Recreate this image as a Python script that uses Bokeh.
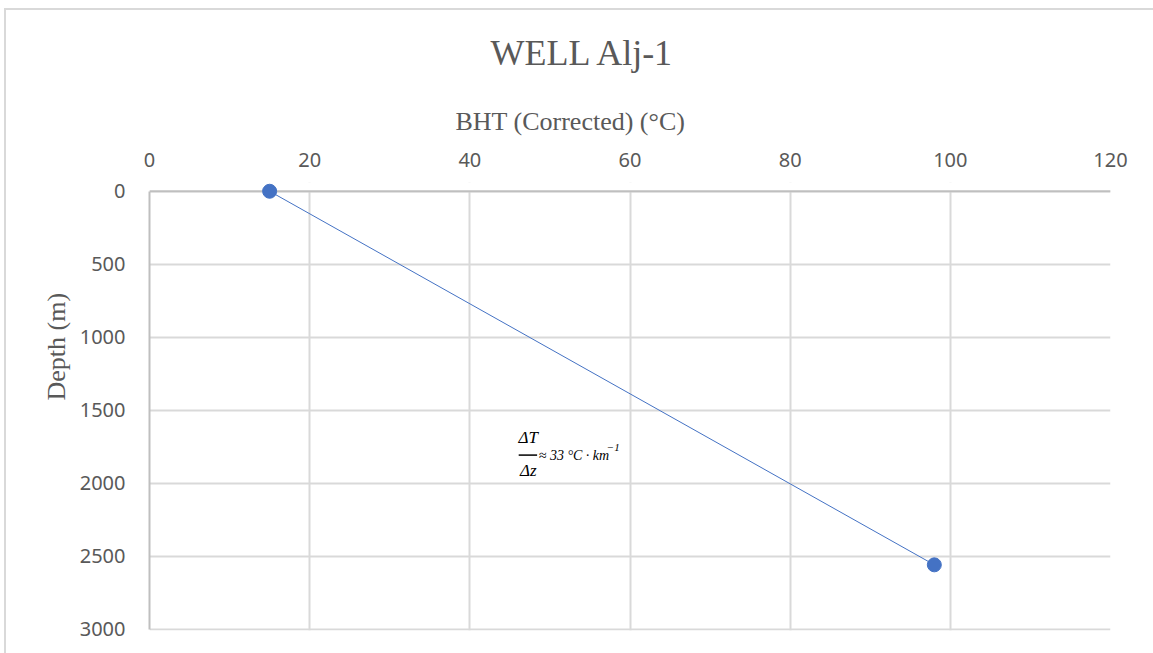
from bokeh.plotting import figure
from bokeh.models import Range1d, Title, Label, BoxAnnotation, FixedTicker, Span, InlineStyleSheet
from bokeh.embed import file_html
from bokeh.resources import INLINE

# Data
temperature_c = [15, 98]
depth_m = [0, 2560]
x_ticks = [0, 20, 40, 60, 80, 100, 120]
y_ticks = [0, 500, 1000, 1500, 2000, 2500, 3000]

TXT = "#595959"
GRID = "#d9d9d9"
AXIS = "#bfbfbf"
BLUE = "#4472C4"

p = figure(width=1153, height=653, output_backend="svg", toolbar_location=None,
           x_range=Range1d(0, 120), y_range=Range1d(3010, -60),
           x_axis_location="above", min_border_left=149, min_border_right=43,
           min_border_top=182, min_border_bottom=23)
p.outline_line_color = None
p.background_fill_color = "white"
p.border_fill_color = "white"

p.title = Title(text="WELL Alj-1", align="left", offset=341, text_font="Liberation Serif",
                text_font_size="36px", text_font_style="normal", text_color=TXT,
                standoff=37)

for ax in (p.xaxis[0], p.yaxis[0]):
    ax.major_tick_line_color = None
    ax.minor_tick_line_color = None
    ax.axis_line_color = AXIS
    ax.axis_line_width = 2
    ax.major_label_text_font = "Noto Sans"
    ax.major_label_text_font_size = "20px"
    ax.major_label_text_color = TXT

p.xaxis.axis_line_color = None
p.yaxis.bounds = (0, 3000)
p.xaxis.ticker = FixedTicker(ticks=x_ticks)
p.yaxis.ticker = FixedTicker(ticks=y_ticks)
p.xaxis.major_label_standoff = 10
p.yaxis.major_label_standoff = 18

# axis titles (placed like the reference, centred on the chart area)
p.add_layout(Title(text="BHT (Corrected) (°C)", align="left", offset=306, standoff=27,
                   text_font="Liberation Serif", text_font_size="26px",
                   text_font_style="normal", text_color=TXT), "above")
p.add_layout(Title(text="Depth (m)", align="left", offset=230, standoff=11,
                   text_font="Liberation Serif", text_font_size="26px",
                   text_font_style="normal", text_color=TXT), "left")

p.xgrid.ticker = FixedTicker(ticks=x_ticks)
p.ygrid.ticker = FixedTicker(ticks=y_ticks)
p.grid.grid_line_color = GRID
p.grid.grid_line_width = 2

# hide the grid above depth 0, draw the top axis line at depth 0
p.add_layout(BoxAnnotation(bottom=-60, top=0, fill_color="white", fill_alpha=1,
                           line_color=None, level="underlay"))
p.add_layout(Span(location=0, dimension="width", line_color=AXIS, line_width=2,
                  level="underlay"))

p.line(temperature_c, depth_m, line_color=BLUE, line_width=1)
p.scatter(temperature_c, depth_m, size=14, fill_color=BLUE, line_color=BLUE)

# Gradient annotation
af = dict(text_font="Liberation Serif", text_font_style="italic", text_color="#000000")
p.add_layout(Label(x=47.3, y=1685, text="ΔT", text_align="center", text_baseline="middle",
                   text_font_size="17px", **af))
p.add_layout(Label(x=47.3, y=1915, text="Δz", text_align="center", text_baseline="middle",
                   text_font_size="17px", **af))
p.segment(x0=[46.1], y0=[1808], x1=[48.4], y1=[1808], line_color="black", line_width=1.5)
p.add_layout(Label(x=48.6, y=1808, text="≈ 33 °C · km", text_align="left", text_baseline="middle",
                   text_font_size="14px", **af))
p.add_layout(Label(x=57.1, y=1755, text="−1", text_align="left", text_baseline="middle",
                   text_font_size="11px", **af))

# outer chart border (left and top edges visible in the reference)
p.stylesheets = [InlineStyleSheet(css=(
    ":host { position: relative; }"
    ":host::after { content: ''; position: absolute; left: 4px; top: 8px; right: 0; bottom: 0;"
    " border-left: 2px solid #d9d9d9; border-top: 2px solid #d9d9d9;"
    " pointer-events: none; z-index: 10; }"))]

open("out.html", "w").write(file_html(p, INLINE))
